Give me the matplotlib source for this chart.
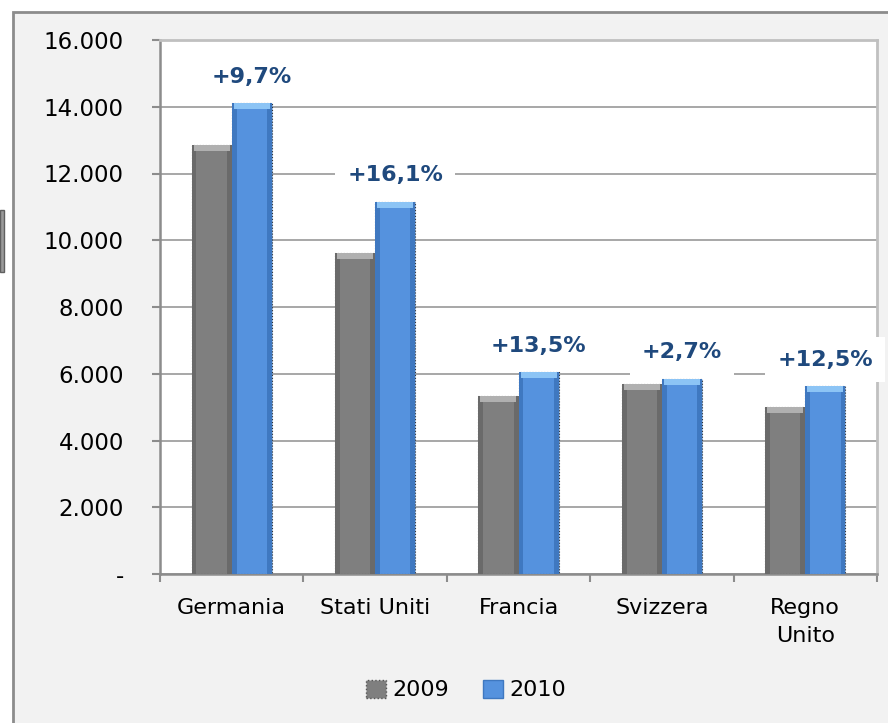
import numpy as np
import matplotlib.pyplot as plt
from matplotlib.patches import Rectangle, Patch

# dati
paesi = ["Germania", "Stati Uniti", "Francia", "Svizzera", "Regno\nUnito"]
v2009 = [12850, 9610, 5330, 5700, 5000]
v2010 = [14100, 11160, 6050, 5850, 5630]
variazioni = ["+9,7%", "+16,1%", "+13,5%", "+2,7%", "+12,5%"]
yticks = [0, 2000, 4000, 6000, 8000, 10000, 12000, 14000, 16000]
ylabels = ["-", "2.000", "4.000", "6.000", "8.000", "10.000", "12.000", "14.000", "16.000"]

grigio = "#7f7f7f"
blu = "#5592de"
blu_scuro = "#1f497d"

fig = plt.figure(figsize=(8.88, 7.23), dpi=100)
fig.patch.set_facecolor("white")

# cornice esterna
fig.patches.append(Rectangle((13 / 888, -0.05), 1.2, 1 - 12 / 723 + 0.05,
                             transform=fig.transFigure, facecolor="#f2f2f2",
                             edgecolor="#8c8c8c", linewidth=2, zorder=-2))
# piccolo residuo a sinistra
fig.patches.append(Rectangle((0, 1 - 272 / 723), 4 / 888, 62 / 723,
                             transform=fig.transFigure, facecolor="#9a9a9a",
                             edgecolor="#606060", linewidth=1, zorder=-1))

ax = fig.add_axes([160 / 888, 149 / 723, 717 / 888, 534 / 723])
ax.set_zorder(1)
ax.set_facecolor("white")

x = np.arange(len(paesi))
w = 0.28

ax.bar(x - w / 2, v2009, w, color=grigio, edgecolor="#444444", linestyle=":",
       linewidth=0.8, zorder=3)
ax.bar(x + w / 2, v2010, w, color=blu, edgecolor="#333333", linestyle=":",
       linewidth=0.8, zorder=3)

# effetto rilievo: bordi scuri e bordo superiore chiaro
for xs, vals, scuro, chiaro in [(x - w / 2, v2009, "#6a6a6a", "#b0b0b0"),
                               (x + w / 2, v2010, "#3f78c0", "#8cc4f5")]:
    ax.bar(xs - w * 0.44, vals, w * 0.12, color=scuro, linewidth=0, zorder=4)
    ax.bar(xs + w * 0.44, vals, w * 0.12, color=scuro, linewidth=0, zorder=4)
    ax.bar(xs, [180] * len(vals), w * 0.9, bottom=np.array(vals) - 180,
           color=chiaro, linewidth=0, zorder=4)

for xi, v, t in zip(x + w / 2, v2010, variazioni):
    ax.annotate(t, (xi, v), xytext=(0, 19), textcoords="offset points",
                ha="center", va="center", fontsize=16, fontweight="bold",
                color=blu_scuro, zorder=6, annotation_clip=False,
                bbox=dict(boxstyle="square,pad=0.55", facecolor="white",
                          edgecolor="none"))

ax.set_ylim(0, 16000)
ax.set_xlim(-0.5, len(paesi) - 0.5)
ax.set_yticks(yticks)
ax.set_yticklabels(ylabels)
ax.yaxis.grid(True, color="#a0a0a0", linewidth=1.3, zorder=1)
ax.set_axisbelow(True)

ax.set_xticks(x)
ax.set_xticklabels(paesi, linespacing=1.55)
ax.set_xticks(np.arange(len(paesi) + 1) - 0.5, minor=True)
ax.tick_params(axis="x", which="major", length=0, pad=17, labelsize=16)
ax.tick_params(axis="x", which="minor", length=6, width=1.5, color="#8c8c8c")
ax.tick_params(axis="y", length=6, width=1.5, color="#8c8c8c", pad=20,
               labelsize=16.5)

for s in ["left", "bottom"]:
    ax.spines[s].set_color("#8c8c8c")
    ax.spines[s].set_linewidth(1.8)
for s in ["top", "right"]:
    ax.spines[s].set_color("#c0c0c0")
    ax.spines[s].set_linewidth(2)

handles = [Patch(facecolor=grigio, edgecolor="#555555", linestyle=":"),
           Patch(facecolor=blu, edgecolor="#3f78c0")]
fig.legend(handles, ["2009", "2010"], loc="center",
           bbox_to_anchor=(466 / 888, 1 - 690 / 723), ncol=2, frameon=False,
           fontsize=16, handlelength=0.9, handleheight=0.9, handletextpad=0.3,
           columnspacing=1.5)

plt.savefig("out.png", dpi=100)
